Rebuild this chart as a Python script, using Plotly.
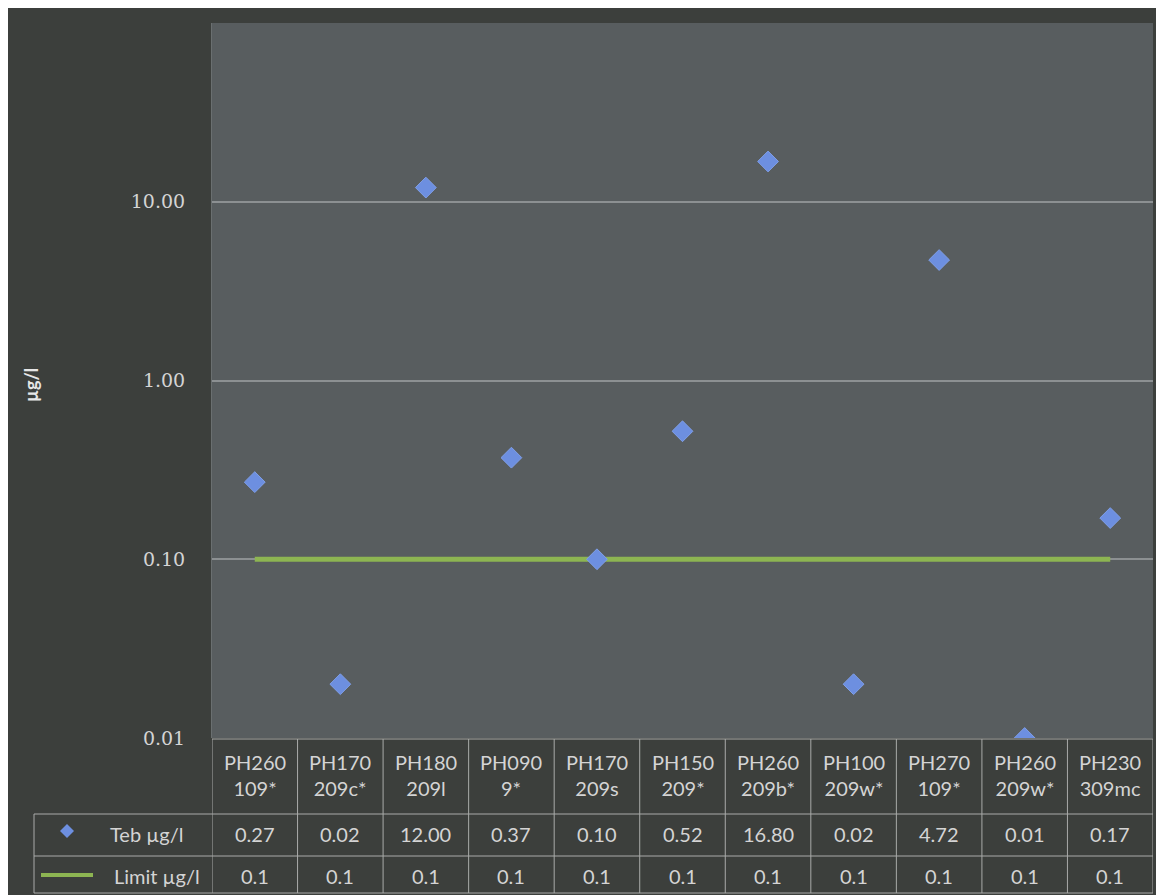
import plotly.graph_objects as go

# Sampling points and measured tebuconazole concentrations
sites = ["PH260<br>109*", "PH170<br>209c*", "PH180<br>209l", "PH090<br>9*", "PH170<br>209s",
         "PH150<br>209*", "PH260<br>209b*", "PH100<br>209w*", "PH270<br>109*", "PH260<br>209w*",
         "PH230<br>309mc"]
teb = [0.27, 0.02, 12.00, 0.37, 0.10, 0.52, 16.80, 0.02, 4.72, 0.01, 0.17]
limit = [0.1] * len(sites)
y_ticks = [0.01, 0.1, 1, 10]
y_tick_text = ["0.01", "0.10", "1.00", "10.00"]

W, H = 1163, 895
L, R, T, B = 212, 10, 23, 157
PW, PH = W - L - R, H - T - B

def px_x(px):
    return (px - L) / PW

def px_y(py):
    return (H - B - py) / PH

BG_DARK = "#3c3f3c"
PLOT_BG = "#585d5f"
TXT = "#d4d4d4"
GRID = "#8c9092"
TABLE_LINE = "#a9aba9"
BLUE = "#6d8fe0"
GREEN = "#8db552"
FONT = "Lato"
FS = 20

xs = list(range(len(sites)))

fig = go.Figure()
fig.add_trace(go.Scatter(x=xs, y=limit, mode="lines", line=dict(color=GREEN, width=5),
                         name="Limit µg/l", hoverinfo="skip"))
fig.add_trace(go.Scatter(x=xs, y=teb, mode="markers", name="Teb µg/l",
                         marker=dict(symbol="diamond", size=16, color=BLUE,
                                     line=dict(color="#7f9fe8", width=1))))

shapes = []
annotations = []

# white frame around the dark panel
for x0, y0, x1, y1 in [(0, 0, W, 8), (0, 0, 8, H), (1156, 0, W, H)]:
    shapes.append(dict(type="rect", xref="paper", yref="paper", layer="above",
                       x0=px_x(x0), x1=px_x(x1), y0=px_y(y0), y1=px_y(y1),
                       fillcolor="white", line=dict(width=0)))

# data table below the plot
row_top, row_teb, row_lim, row_bot = 739, 814, 856, 893
for i in range(len(sites) + 1):
    shapes.append(dict(type="line", xref="x", yref="paper", x0=i - 0.5, x1=i - 0.5,
                       y0=px_y(row_top), y1=px_y(row_bot),
                       line=dict(color=TABLE_LINE, width=1)))
shapes.append(dict(type="line", xref="paper", yref="paper", x0=px_x(34), x1=px_x(34),
                   y0=px_y(row_teb), y1=px_y(row_bot), line=dict(color=TABLE_LINE, width=1)))
shapes.append(dict(type="line", xref="paper", yref="paper", x0=0, x1=1,
                   y0=px_y(row_top), y1=px_y(row_top), line=dict(color=TABLE_LINE, width=1)))
for ry in (row_teb, row_lim, row_bot):
    shapes.append(dict(type="line", xref="paper", yref="paper", x0=px_x(34), x1=1,
                       y0=px_y(ry), y1=px_y(ry), line=dict(color=TABLE_LINE, width=1)))

# legend keys inside the table
shapes.append(dict(type="path", xref="paper", yref="paper", xsizemode="pixel", ysizemode="pixel",
                   xanchor=px_x(67), yanchor=px_y(831),
                   path="M 0 7 L 7 0 L 0 -7 L -7 0 Z", fillcolor=BLUE, line=dict(width=0)))
shapes.append(dict(type="line", xref="paper", yref="paper", x0=px_x(41), x1=px_x(93),
                   y0=px_y(875), y1=px_y(875), line=dict(color=GREEN, width=4)))

cell_font = dict(family=FONT, size=FS, color=TXT)
for i, s in enumerate(sites):
    annotations.append(dict(x=i, y=px_y(775), xref="x", yref="paper", yanchor="middle",
                            text=s, showarrow=False, font=cell_font, align="center"))
    annotations.append(dict(x=i, y=px_y(834), xref="x", yref="paper", yanchor="middle",
                            text=f"{teb[i]:.2f}", showarrow=False, font=cell_font))
    annotations.append(dict(x=i, y=px_y(876), xref="x", yref="paper", yanchor="middle",
                            text=f"{limit[i]:.1f}", showarrow=False, font=cell_font))

annotations.append(dict(x=px_x(185), y=px_y(834), xref="paper", yref="paper", yanchor="middle",
                        text="Teb µg/l", xanchor="right", showarrow=False, font=cell_font))
annotations.append(dict(x=px_x(202), y=px_y(876), xref="paper", yref="paper", yanchor="middle",
                        text="Limit µg/l", xanchor="right", showarrow=False, font=cell_font))

# y-axis title
annotations.append(dict(x=px_x(31), y=px_y(385), xref="paper", yref="paper", xanchor="center",
                        yanchor="middle", text="<b>µg/l</b>", textangle=-90, showarrow=False,
                        font=dict(family=FONT, size=18, color="#e6e6e6")))

fig.update_layout(
    width=W, height=H,
    margin=dict(l=L, r=R, t=T, b=B),
    paper_bgcolor=BG_DARK, plot_bgcolor=PLOT_BG,
    showlegend=False,
    shapes=shapes, annotations=annotations,
    xaxis=dict(range=[-0.5, len(sites) - 0.5], showticklabels=False, showgrid=False,
               zeroline=False, showline=False, fixedrange=True),
    yaxis=dict(type="log", range=[-2, 2], tickvals=y_ticks, ticktext=y_tick_text,
               showgrid=True, gridcolor=GRID, gridwidth=1.5, zeroline=False,
               showline=True, linecolor="#6a6f70", linewidth=1,
               ticks="", ticklabelstandoff=22,
               tickfont=dict(family="DejaVu Serif", size=19, color=TXT)),
)

fig.write_html("out.html")
